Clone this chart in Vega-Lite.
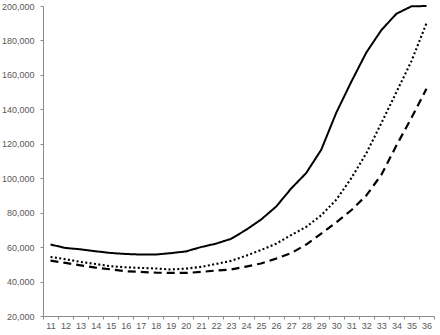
{
  "$schema": "https://vega.github.io/schema/vega-lite/v6.json",
  "width": 391,
  "height": 310,
  "autosize": {"type": "none"},
  "padding": {"left": 43, "top": 6, "right": 6, "bottom": 19},
  "background": "white",
  "config": {
    "view": {"stroke": null},
    "axis": {
      "labelFont": "Liberation Sans",
      "labelFontSize": 9,
      "labelColor": "#595959",
      "domainColor": "#8c8c8c",
      "tickColor": "#8c8c8c",
      "grid": false,
      "title": null
    }
  },
  "datasets": {
    "rows": [
      {"age": 11, "series": "a", "value": 61500},
      {"age": 12, "series": "a", "value": 59500},
      {"age": 13, "series": "a", "value": 58700},
      {"age": 14, "series": "a", "value": 57600},
      {"age": 15, "series": "a", "value": 56600},
      {"age": 16, "series": "a", "value": 56000},
      {"age": 17, "series": "a", "value": 55700},
      {"age": 18, "series": "a", "value": 55700},
      {"age": 19, "series": "a", "value": 56500},
      {"age": 20, "series": "a", "value": 57500},
      {"age": 21, "series": "a", "value": 60000},
      {"age": 22, "series": "a", "value": 62000},
      {"age": 23, "series": "a", "value": 64800},
      {"age": 24, "series": "a", "value": 70000},
      {"age": 25, "series": "a", "value": 76000},
      {"age": 26, "series": "a", "value": 83500},
      {"age": 27, "series": "a", "value": 94000},
      {"age": 28, "series": "a", "value": 103000},
      {"age": 29, "series": "a", "value": 116500},
      {"age": 30, "series": "a", "value": 138000},
      {"age": 31, "series": "a", "value": 156000},
      {"age": 32, "series": "a", "value": 173000},
      {"age": 33, "series": "a", "value": 186000},
      {"age": 34, "series": "a", "value": 195500},
      {"age": 35, "series": "a", "value": 199800},
      {"age": 36, "series": "a", "value": 200000},
      {"age": 11, "series": "b", "value": 54300},
      {"age": 12, "series": "b", "value": 53000},
      {"age": 13, "series": "b", "value": 51400},
      {"age": 14, "series": "b", "value": 50200},
      {"age": 15, "series": "b", "value": 48900},
      {"age": 16, "series": "b", "value": 48300},
      {"age": 17, "series": "b", "value": 47900},
      {"age": 18, "series": "b", "value": 47600},
      {"age": 19, "series": "b", "value": 47000},
      {"age": 20, "series": "b", "value": 47500},
      {"age": 21, "series": "b", "value": 48500},
      {"age": 22, "series": "b", "value": 50200},
      {"age": 23, "series": "b", "value": 52000},
      {"age": 24, "series": "b", "value": 55000},
      {"age": 25, "series": "b", "value": 58300},
      {"age": 26, "series": "b", "value": 62000},
      {"age": 27, "series": "b", "value": 67000},
      {"age": 28, "series": "b", "value": 71700},
      {"age": 29, "series": "b", "value": 78500},
      {"age": 30, "series": "b", "value": 87500},
      {"age": 31, "series": "b", "value": 100000},
      {"age": 32, "series": "b", "value": 114500},
      {"age": 33, "series": "b", "value": 132000},
      {"age": 34, "series": "b", "value": 150000},
      {"age": 35, "series": "b", "value": 168000},
      {"age": 36, "series": "b", "value": 190000},
      {"age": 11, "series": "c", "value": 52200},
      {"age": 12, "series": "c", "value": 50800},
      {"age": 13, "series": "c", "value": 49400},
      {"age": 14, "series": "c", "value": 48100},
      {"age": 15, "series": "c", "value": 47100},
      {"age": 16, "series": "c", "value": 46000},
      {"age": 17, "series": "c", "value": 45600},
      {"age": 18, "series": "c", "value": 45200},
      {"age": 19, "series": "c", "value": 45000},
      {"age": 20, "series": "c", "value": 45000},
      {"age": 21, "series": "c", "value": 45600},
      {"age": 22, "series": "c", "value": 46400},
      {"age": 23, "series": "c", "value": 47000},
      {"age": 24, "series": "c", "value": 48700},
      {"age": 25, "series": "c", "value": 50500},
      {"age": 26, "series": "c", "value": 53300},
      {"age": 27, "series": "c", "value": 56500},
      {"age": 28, "series": "c", "value": 61500},
      {"age": 29, "series": "c", "value": 67800},
      {"age": 30, "series": "c", "value": 74400},
      {"age": 31, "series": "c", "value": 81400},
      {"age": 32, "series": "c", "value": 90000},
      {"age": 33, "series": "c", "value": 102000},
      {"age": 34, "series": "c", "value": 119000},
      {"age": 35, "series": "c", "value": 135000},
      {"age": 36, "series": "c", "value": 152000}
    ]
  },
  "data": {"name": "rows"},
  "mark": {"type": "line", "color": "#000000", "strokeCap": "butt", "strokeJoin": "round"},
  "encoding": {
    "x": {
      "field": "age",
      "type": "ordinal",
      "scale": {"type": "band", "paddingInner": 0, "paddingOuter": 0},
      "axis": {"labelAngle": 0, "tickBand": "extent", "tickSize": 3, "labelPadding": 2}
    },
    "y": {
      "field": "value",
      "type": "quantitative",
      "scale": {"domain": [20000, 200000], "nice": false, "zero": false},
      "axis": {"values": [20000, 40000, 60000, 80000, 100000, 120000, 140000, 160000, 180000, 200000], "format": ",.0f", "tickSize": 3, "labelPadding": 6}
    },
    "detail": {"field": "series"},
    "strokeDash": {
      "field": "series",
      "type": "nominal",
      "scale": {"domain": ["a", "b", "c"], "range": [[1, 0], [2, 2.4], [8, 5]]},
      "legend": null
    },
    "strokeWidth": {
      "field": "series",
      "type": "nominal",
      "scale": {"domain": ["a", "b", "c"], "range": [2, 2.2, 2.6]},
      "legend": null
    }
  }
}
